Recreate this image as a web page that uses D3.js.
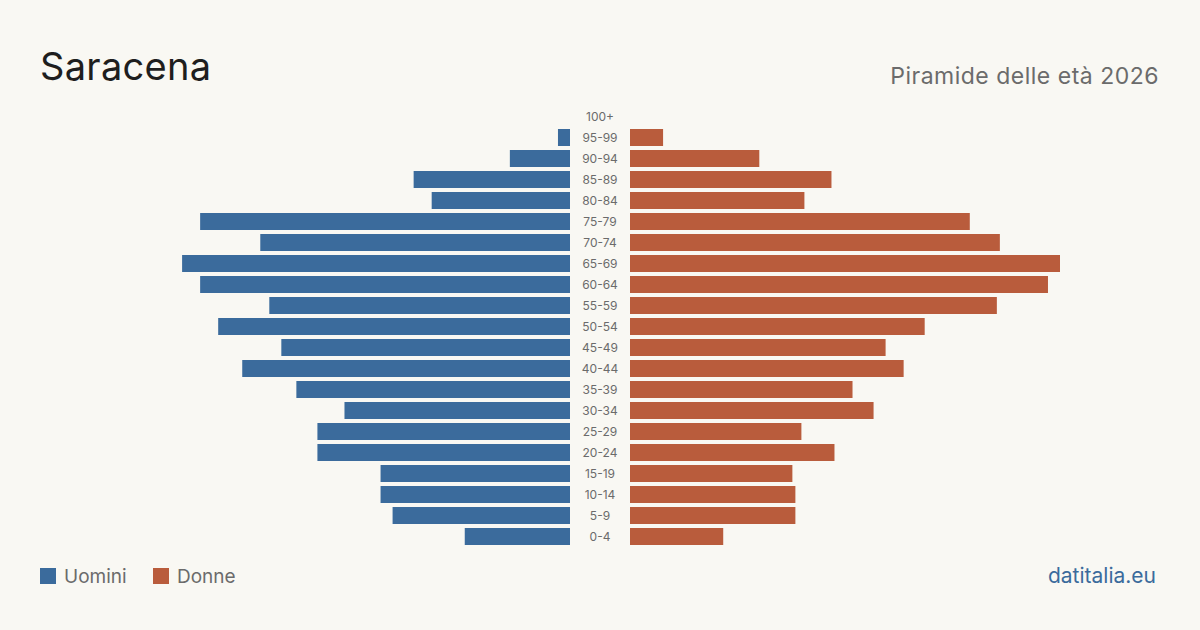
<!DOCTYPE html>
<html>
<head>
<meta charset="utf-8">
<script src="https://cdn.jsdelivr.net/npm/d3@7"></script>
<style>
  html, body { margin: 0; padding: 0; background: #f9f8f3; }
  svg { display: block; font-family: Inter, "Noto Sans", sans-serif; }
</style>
</head>
<body>
<svg id="chart" width="1200" height="630"></svg>
<script>
// fasce di età, dalla più giovane
var ages = ["0-4","5-9","10-14","15-19","20-24","25-29","30-34","35-39","40-44","45-49",
            "50-54","55-59","60-64","65-69","70-74","75-79","80-84","85-89","90-94","95-99","100+"];
var uomini = [35, 59, 63, 63, 84, 84, 75, 91, 109, 96, 117, 100, 123, 129, 103, 123, 46, 52, 20, 4, 0];
var donne  = [31, 55, 55, 54, 68, 57, 81, 74, 91, 85, 98, 122, 139, 143, 123, 113, 58, 67, 43, 11, 0];

var colUomini = "#3b6b9c",
    colDonne = "#b95c3c";

var svg = d3.select("#chart");
svg.append("rect").attr("width", 1200).attr("height", 630).attr("fill", "#f9f8f3");

var maxVal = d3.max(uomini.concat(donne));

var y = d3.scaleBand()
    .domain(ages.slice().reverse())
    .range([106, 547])
    .paddingInner(4 / 21)
    .paddingOuter(2 / 21);

var xL = d3.scaleLinear().domain([0, maxVal]).range([570, 140]);
var xR = d3.scaleLinear().domain([0, maxVal]).range([630, 1060]);

var rows = ages.map(function (a, i) { return { age: a, m: uomini[i], f: donne[i] }; });

svg.selectAll(".m").data(rows).enter().append("rect")
    .attr("class", "m")
    .attr("x", function (d) { return xL(d.m); })
    .attr("y", function (d) { return y(d.age); })
    .attr("width", function (d) { return xL(0) - xL(d.m); })
    .attr("height", y.bandwidth())
    .attr("fill", colUomini);

svg.selectAll(".f").data(rows).enter().append("rect")
    .attr("class", "f")
    .attr("x", xR(0))
    .attr("y", function (d) { return y(d.age); })
    .attr("width", function (d) { return xR(d.f) - xR(0); })
    .attr("height", y.bandwidth())
    .attr("fill", colDonne);

svg.selectAll(".ageLabel").data(ages).enter().append("text")
    .attr("class", "ageLabel")
    .attr("x", 600)
    .attr("y", function (d) { return y(d) + y.bandwidth() / 2; })
    .attr("dy", "0.35em")
    .style("text-anchor", "middle")
    .style("font-size", "12px")
    .style("fill", "#6b6b6b")
    .text(function (d) { return d; });

// titoli
svg.append("text").attr("x", 40).attr("y", 80)
    .style("font-size", "38px").style("fill", "#1e1e1e")
    .style("letter-spacing", "0.3px")
    .text("Saracena");
svg.append("text").attr("x", 1159).attr("y", 84)
    .style("text-anchor", "end").style("font-size", "23px").style("fill", "#6b6b6b")
    .style("letter-spacing", "0.5px")
    .text("Piramide delle età 2026");

// legenda
var legend = [{ name: "Uomini", color: colUomini, x: 40 }, { name: "Donne", color: colDonne, x: 153 }];
var lg = svg.selectAll(".legend").data(legend).enter().append("g")
    .attr("transform", function (d) { return "translate(" + d.x + ",568)"; });
lg.append("rect").attr("width", 16).attr("height", 16).attr("fill", function (d) { return d.color; });
lg.append("text").attr("x", 24).attr("y", 15)
    .style("font-size", "19px").style("fill", "#6b6b6b")
    .text(function (d) { return d.name; });

svg.append("text").attr("x", 1156).attr("y", 583)
    .style("text-anchor", "end").style("font-size", "21px").style("fill", "#3b6b9c")
    .text("datitalia.eu");
</script>
</body>
</html>
